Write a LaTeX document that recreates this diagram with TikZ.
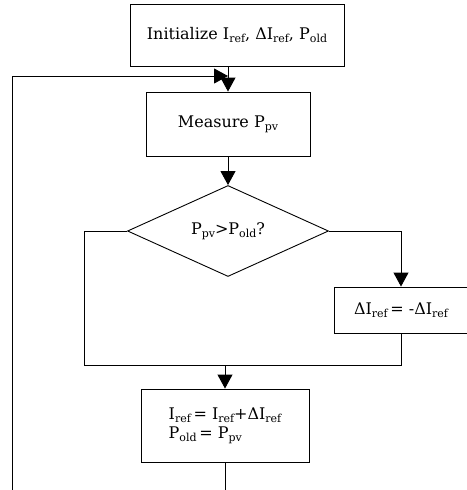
\documentclass[tikz,border=0pt]{standalone}
\usepackage{fontspec}
\setmainfont{DejaVu Serif}
\usetikzlibrary{shapes.geometric,arrows.meta}
\newcommand{\sbs}[1]{\raisebox{-0.35ex}{\fontsize{11}{12}\selectfont #1}}
\tikzset{
  box/.style={draw, line width=0.9pt, rectangle, inner sep=0pt, align=left, font=\fontsize{16}{19}\selectfont},
  dec/.style={draw, line width=0.9pt, diamond, inner sep=0pt, font=\fontsize{16}{19}\selectfont},
  conn/.style={line width=0.9pt},
  arr/.style={line width=0.9pt, -{Triangle[length=14pt,width=15pt]}}
}
\begin{document}
\begin{tikzpicture}[x=1pt,y=-1pt]
\useasboundingbox (0,0) rectangle (466,490);
\fill[white] (0,0) rectangle (466,490);
\node[box, minimum width=214pt, minimum height=62pt] (init) at (237,35) {Initialize I\sbs{ref}, ΔI\sbs{ref}, P\sbs{old}};
\node[box, minimum width=164pt, minimum height=64pt] (meas) at (228,124) {Measure P\sbs{pv}};
\node[dec, minimum width=201pt, minimum height=87pt] (cmp) at (228,231) {P\sbs{pv}>P\sbs{old}?};
\node[box, minimum width=134pt, minimum height=46pt] (dlt) at (401,310) {ΔI\sbs{ref}\,= -ΔI\sbs{ref}};
\node[box, minimum width=168pt, minimum height=73pt] (upd) at (225,425.5) {I\sbs{ref}\,= I\sbs{ref}+ΔI\sbs{ref}\\P\sbs{old}\,= P\sbs{pv}};
\coordinate (merge) at (225,365);
\draw[arr] (init.south -| meas.north) -- (meas.north);
\draw[arr] (meas.south) -- (cmp.north);
\draw[arr] (cmp.east) -| (dlt.north);
\draw[conn] (cmp.west) -| (84,365) -- (merge);
\draw[conn] (dlt.south) |- (merge);
\draw[arr] (merge) -- (upd.north);
\draw[arr] (upd.south) -- ++(0,40) -| (12,76) -- (meas.north |- 0,76);
\end{tikzpicture}
\end{document}
